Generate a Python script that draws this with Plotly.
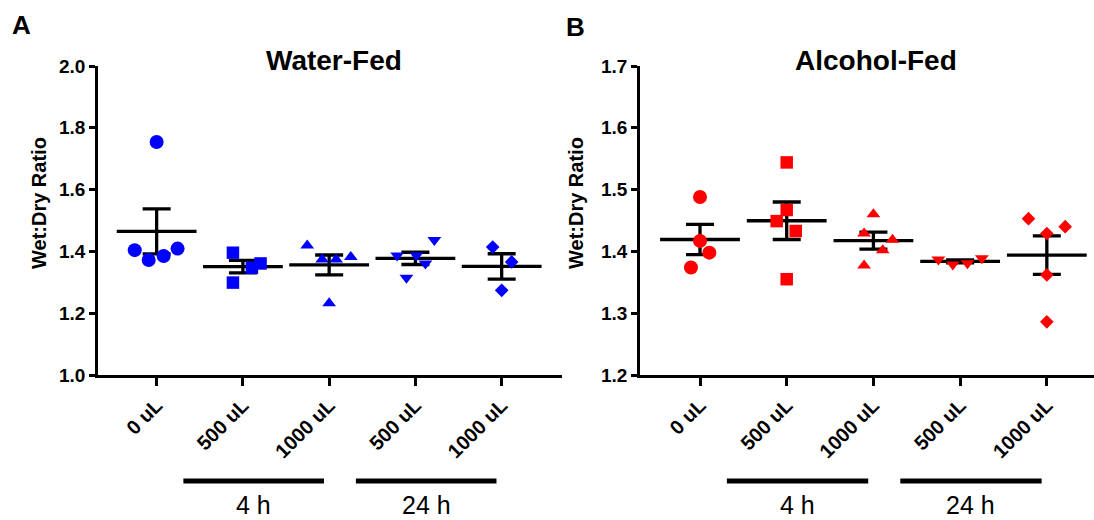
import numpy as np
import plotly.graph_objects as go

# ---- data -------------------------------------------------------------
dose_labels = ["0 uL", "500 uL", "1000 uL", "500 uL", "1000 uL"]
time_groups = [("4 h", 1, 2), ("24 h", 3, 4)]

# Wet:dry ratios, water-fed animals (one list per dose/time group)
water_0ul = [1.754, 1.404, 1.372, 1.385, 1.409]
water_4h_500 = [1.396, 1.299, 1.347, 1.361]
water_4h_1000 = [1.419, 1.374, 1.374, 1.382, 1.232]
water_24h_500 = [1.387, 1.387, 1.361, 1.315, 1.437]
water_24h_1000 = [1.414, 1.366, 1.274]

# Wet:dry ratios, alcohol-fed animals
alcohol_0ul = [1.488, 1.417, 1.398, 1.374]
alcohol_4h_500 = [1.544, 1.467, 1.449, 1.433, 1.355]
alcohol_4h_1000 = [1.460, 1.429, 1.419, 1.402, 1.377]
alcohol_24h_500 = [1.387, 1.379, 1.381, 1.389]
alcohol_24h_1000 = [1.453, 1.440, 1.429, 1.362, 1.286]

water_groups = [water_0ul, water_4h_500, water_4h_1000, water_24h_500, water_24h_1000]
alcohol_groups = [alcohol_0ul, alcohol_4h_500, alcohol_4h_1000, alcohol_24h_500, alcohol_24h_1000]

# ---- layout helpers ----------------------------------------------------
W, H = 1094, 520
FONT = "Liberation Sans, Arial, sans-serif"
CAT_PX = 86.5  # pixel width of one category slot

# horizontal scatter spread of overlapping points (pixels)
water_spread = [
    [0, -22, -8, 7, 21],
    [-10, -10, 9, 17.7],
    [-22, -7, 7, 21.7, 0],
    [-18.3, 1, 10, -9, 19],
    [-9, 10, 0],
]
alcohol_spread = [
    [0, 0, 9.3, -9],
    [0, 0, -10, 9, 0],
    [0, -9.3, 19, 9.3, -9.3],
    [-21.7, -7.3, 7.3, 21.7],
    [-18.3, 18.3, 0, 0, 0],
]

symbols = ["circle", "square", "triangle-up", "triangle-down", "diamond"]
sizes = [14, 12.5, 12, 12, 10.5]


def px_x(p):
    return p / W


def px_y(p):
    return 1 - p / H


fig = go.Figure()


def add_panel(groups, spread, color, xa, ya):
    # mean +/- SEM bars
    for i, vals in enumerate(groups):
        v = np.array(vals)
        mean = v.mean()
        sem = v.std(ddof=1) / np.sqrt(len(v))
        fig.add_trace(go.Scatter(
            x=[i], y=[mean], xaxis=xa, yaxis=ya, mode="markers",
            marker=dict(symbol="line-ew", size=57, color="black",
                        line=dict(width=3.3, color="black")),
            error_y=dict(type="data", array=[sem], visible=True,
                         color="black", thickness=3.3, width=14),
            showlegend=False, hoverinfo="skip",
        ))
    # individual animals
    for i, vals in enumerate(groups):
        xs = [i + d / CAT_PX for d in spread[i]]
        fig.add_trace(go.Scatter(
            x=xs, y=vals, xaxis=xa, yaxis=ya, mode="markers",
            marker=dict(symbol=symbols[i], size=sizes[i], color=color,
                        line=dict(width=0)),
            showlegend=False,
        ))


add_panel(water_groups, water_spread, "#0000FF", "x", "y")
add_panel(alcohol_groups, alcohol_spread, "#FF0000", "x2", "y2")

y_dom = [px_y(375), px_y(66)]
xcommon = dict(
    tickmode="array", tickvals=list(range(5)), ticktext=dose_labels,
    tickangle=-45, tickfont=dict(family=FONT, size=20, color="black", weight="bold"),
    showline=True, linecolor="black", linewidth=2.5,
    ticks="outside", ticklen=8, tickwidth=2.5, tickcolor="black",
    showgrid=False, zeroline=False, automargin=False,
)
ycommon = dict(
    tickformat=".1f",
    tickfont=dict(family=FONT, size=19, color="black", weight="bold"),
    showline=True, linecolor="black", linewidth=2.5,
    ticks="outside", ticklen=6, tickwidth=2.5, tickcolor="black",
    showgrid=False, zeroline=False, domain=y_dom, automargin=False,
)

fig.update_layout(
    width=W, height=H,
    margin=dict(l=0, r=0, t=0, b=0, autoexpand=False),
    paper_bgcolor="white", plot_bgcolor="white",
    xaxis=dict(xcommon, domain=[px_x(98), px_x(561.7)], range=[-0.68, 4.696], anchor="y"),
    yaxis=dict(ycommon, range=[1.0, 2.0], dtick=0.2, anchor="x"),
    xaxis2=dict(xcommon, domain=[px_x(640), 1.0], range=[-0.692, 4.544], anchor="y2"),
    yaxis2=dict(ycommon, range=[1.2, 1.7], dtick=0.1, anchor="x2"),
)

annotations = []
shapes = []


def text(x, y, s, size, bold=False, angle=0, xref="paper"):
    annotations.append(dict(
        x=x, y=y, xref=xref, yref="paper", text=s, showarrow=False,
        textangle=angle, xanchor="center", yanchor="middle",
        font=dict(family=FONT, size=size, color="black",
                  weight="bold" if bold else "normal"),
    ))


# panel letters and titles
text(px_x(21), px_y(25), "A", 26, bold=True)
text(px_x(575), px_y(27), "B", 26, bold=True)
text(px_x(334), px_y(60), "Water-Fed", 28, bold=True)
text(px_x(876), px_y(60), "Alcohol-Fed", 28, bold=True)
text(px_x(39), px_y(203), "Wet:Dry Ratio", 20, bold=True, angle=-90)
text(px_x(576), px_y(203), "Wet:Dry Ratio", 20, bold=True, angle=-90)

# time-point brackets under the dose labels
for xa in ["x", "x2"]:
    for label, a, b in time_groups:
        x0, x1 = a - 0.69, b - 0.06
        shapes.append(dict(type="line", xref=xa, yref="paper",
                           x0=x0, x1=x1, y0=px_y(481), y1=px_y(481),
                           line=dict(color="black", width=5)))
        text((x0 + x1) / 2, px_y(505), label, 25, xref=xa)

fig.update_layout(annotations=annotations, shapes=shapes)
fig.write_html("out.html")
